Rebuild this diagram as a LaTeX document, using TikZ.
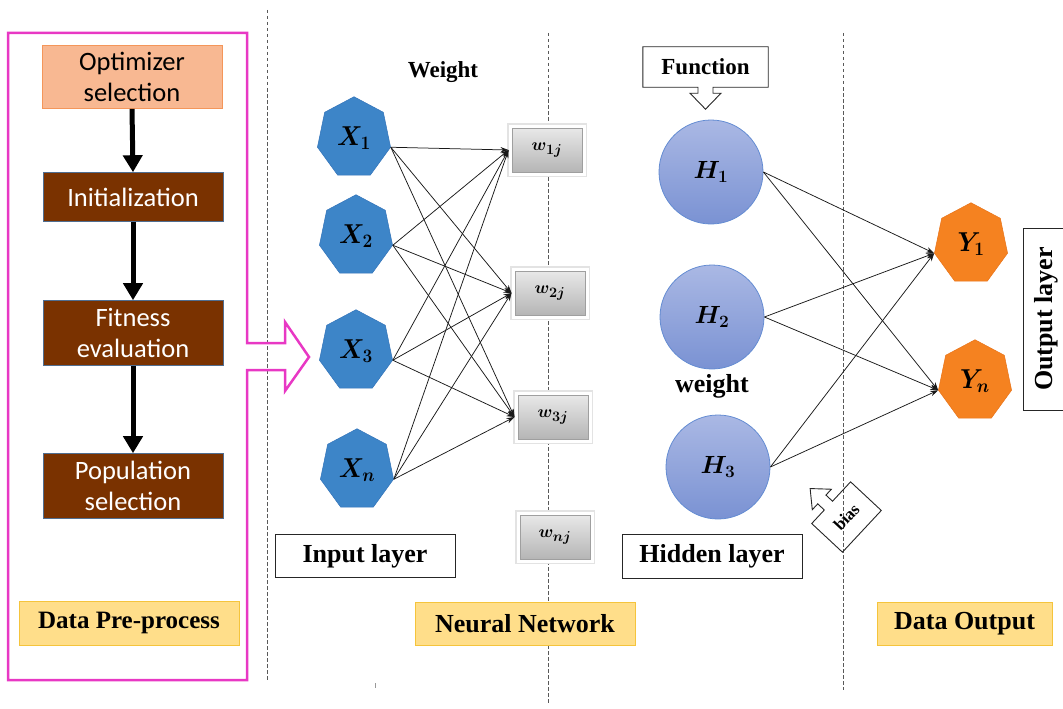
\documentclass[tikz,border=0pt]{standalone}
\usepackage{fontspec}
\setmainfont{Liberation Serif}
\newfontfamily\calibri{Carlito}
\usetikzlibrary{arrows.meta,shapes.geometric,calc}

\definecolor{pinkframe}{RGB}{232,56,196}
\definecolor{brownbox}{RGB}{122,50,0}
\definecolor{boxedge}{RGB}{80,110,145}
\definecolor{peach}{RGB}{248,184,146}
\definecolor{peachedge}{RGB}{244,150,90}
\definecolor{goldfill}{RGB}{255,222,138}
\definecolor{goldedge}{RGB}{245,196,60}
\definecolor{hexblue}{RGB}{61,133,200}
\definecolor{hexblueedge}{RGB}{50,115,185}
\definecolor{hexorange}{RGB}{245,130,32}
\definecolor{hexorangeedge}{RGB}{232,115,25}
\definecolor{circtop}{RGB}{170,184,228}
\definecolor{circbot}{RGB}{122,146,211}
\definecolor{circedge}{RGB}{100,140,210}

\tikzset{
  divider/.style={draw=black!65, line width=0.9pt, dash pattern=on 3.5pt off 2.5pt},
  flowbox/.style={draw=boxedge, line width=0.6pt, minimum width=180pt, align=center,
    font=\calibri\fontsize{26.5}{31}\selectfont},
  flowarrow/.style={line width=5pt, -{Triangle[length=17pt,width=19pt]}},
  lblbox/.style={draw=black!85, line width=0.9pt, fill=white, inner sep=2pt,
    font=\bfseries\fontsize{26}{30}\selectfont},
  goldbox/.style={fill=goldfill, draw=goldedge, line width=1pt, inner sep=2pt,
    font=\bfseries\fontsize{26}{30}\selectfont},
  plainlbl/.style={font=\bfseries\fontsize{23}{26}\selectfont},
  xhep/.style={regular polygon, regular polygon sides=7, minimum size=75pt,
    fill=hexblue, draw=hexblueedge, line width=0.5pt, inner sep=0pt,
    yscale=1.1, transform shape, font=\fontsize{24}{26}\selectfont\boldmath},
  yhep/.style={xhep, fill=hexorange, draw=hexorangeedge},
  hcirc/.style={circle, minimum size=104pt, top color=circtop, bottom color=circbot,
    draw=circedge, line width=0.8pt, font=\fontsize{25}{28}\selectfont\boldmath},
  wbox/.style={minimum width=70pt, minimum height=44pt, inner sep=0pt, outer sep=3.5pt,
    top color=gray!18, bottom color=gray!58, draw=gray!75, line width=0.8pt,
    preaction={draw=gray!22, line width=10pt},
    preaction={draw=white, line width=7pt},
    font=\fontsize{19}{21}\selectfont\boldmath},
  link/.style={draw=black!90, line width=0.75pt, -{Stealth[length=8pt,width=5.5pt]}},
  calloutline/.style={draw=black!85, line width=0.9pt, line join=miter},
}

\begin{document}
\begin{tikzpicture}[x=1pt, y=-1pt]
\useasboundingbox (0,0) rectangle (1063,709);

% section dividers
\draw[divider] (267,10) -- (267,680);
\draw[divider] (548,33) -- (548,703);
\draw[divider] (843,33) -- (843,690);
\draw[black!40, line width=0.8pt] (375,683) -- (375,688);

% pre-processing frame with its outgoing block arrow
\draw[pinkframe, line width=2.5pt, line join=miter]
  (8,33) -- (247,33) -- (247,343) -- (285,343) -- (285,322) -- (309,357)
  -- (285,391) -- (285,370) -- (247,370) -- (247,680) -- (8,680) -- cycle;

% optimiser steps
\node[flowbox, fill=peach, draw=peachedge, minimum height=63pt] (opt) at (132,77) {Optimizer\\selection};
\node[flowbox, fill=brownbox, text=white, minimum height=49pt] (init) at (133,197) {Initialization};
\node[flowbox, fill=brownbox, text=white, minimum height=65pt] (fit) at (133,333) {Fitness\\evaluation};
\node[flowbox, fill=brownbox, text=white, minimum height=65pt] (pop) at (133,486) {Population\\selection};
\draw[flowarrow] (opt.south) -- (init.north);
\draw[flowarrow] (init.south) -- (fit.north);
\draw[flowarrow] (fit.south) -- (pop.north);
\node[goldbox, minimum width=220pt, minimum height=44pt, font=\bfseries\fontsize{25}{30}\selectfont] (pre) at (129,623) {Data Pre-process};

% input layer
\node[xhep] (X1) at (354,138) {$X_1$};
\node[xhep] (X2) at (356,236) {$X_2$};
\node[xhep] (X3) at (356,351) {$X_3$};
\node[xhep] (Xn) at (357,470) {$X_n$};

% weights
\node[plainlbl] (wtitle) at (443,72) {Weight};
\node[wbox] (W1) at (547,150) {$w_{1j}$};
\node[wbox] (W2) at (550,293) {$w_{2j}$};
\node[wbox] (W3) at (553,417) {$w_{3j}$};
\node[wbox] (Wn) at (555,537) {$w_{nj}$};

\foreach \x in {X1,X2,X3,Xn}
  \foreach \w in {W1,W2,W3}
    \draw[link] (\x.corner 6) -- (\w.west);

% hidden layer
\node[hcirc] (H1) at (711,172) {$H_1$};
\node[hcirc] (H2) at (712,317) {$H_2$};
\node[hcirc] (H3) at (718,467) {$H_3$};
\node[font=\bfseries\fontsize{26}{30}\selectfont] (hw) at (712,386) {weight};

% activation function callout
\node[minimum width=125pt, minimum height=40pt, inner sep=0pt, font=\bfseries\fontsize{23}{26}\selectfont] (func) at (705.5,67) {Function};
\draw[calloutline] (func.north west) -- (func.north east) -- (func.south east)
  -- ([xshift=7.5pt]func.south) -- ++(0,6) -- ++(8,0) -- ++(-15.5,16) -- ++(-15.5,-16)
  -- ++(8,0) -- ++(0,-6) -- (func.south west) -- cycle;

% bias callout
\begin{scope}[shift={(846.5,517)}, rotate=47, transform shape]
  \node[minimum width=57pt, minimum height=42pt, inner sep=0pt, font=\bfseries\fontsize{17}{19}\selectfont] (bias) at (0,0) {bias};
  \draw[calloutline] (-28.5,-21) -- (-10,-21) -- (-10,-30) -- (-18,-30) -- (-4,-46)
    -- (10,-30) -- (2,-30) -- (2,-21) -- (28.5,-21) -- (28.5,21) -- (-28.5,21) -- cycle;
\end{scope}

% output layer
\node[yhep] (Y1) at (971,244) {$Y_1$};
\node[yhep] (Yn) at (975,381) {$Y_n$};
\foreach \h in {H1,H2,H3}
  \foreach \y in {Y1,Yn}
    \draw[link] (\h.east) -- (\y.corner 3);

% layer captions
\node[lblbox, minimum width=180pt, minimum height=43pt] (inl) at (365,556) {Input layer};
\node[lblbox, minimum width=180pt, minimum height=44pt] (hidl) at (712,556) {Hidden layer};
\node[lblbox, rotate=90, minimum width=182pt, minimum height=46pt] (outl) at (1046,319) {Output layer};

% section captions
\node[goldbox, minimum width=220pt, minimum height=43pt] (nn) at (525,623.5) {Neural Network};
\node[goldbox, minimum width=175pt, minimum height=43pt] (dout) at (964.5,623.5) {Data Output};
\end{tikzpicture}
\end{document}
